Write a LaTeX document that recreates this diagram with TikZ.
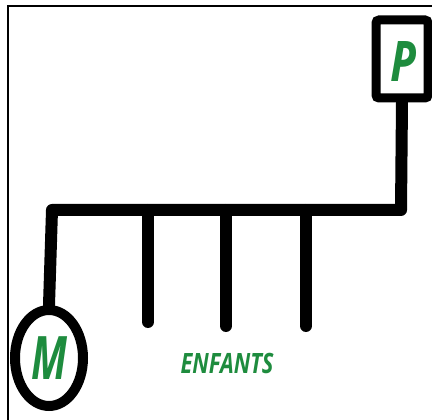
\documentclass[tikz,border=0pt]{standalone}
\usepackage{fontspec}
\setmainfont{Open Sans}
\usetikzlibrary{shapes.geometric}
\definecolor{leafgreen}{RGB}{30,140,62}
\begin{document}
\begin{tikzpicture}[x=1pt,y=-1pt,
  thick line/.style={line width=12pt,line cap=round,line join=round},
  letter/.style={text=leafgreen,inner sep=0pt}]
\useasboundingbox (0,0) rectangle (432,420);
\fill[white] (0,0) rectangle (432,420);
% frame
\draw[line width=2.5pt] (8,420) -- (8,6) -- (432,6);
% parent box
\node[draw,line width=9pt,minimum width=52pt,minimum height=78pt,inner sep=0pt,rounded corners=3pt] (pbox) at (402,59) {};
\node[letter,font=\fontsize{56}{56}\selectfont\bfseries\itshape,xscale=0.8] (p) at (403,62) {P};
% mother ellipse
\node[draw,ellipse,line width=10pt,minimum width=68pt,minimum height=96pt,inner sep=0pt] (mbox) at (49,358) {};
\node[letter,font=\fontsize{60}{60}\selectfont\bfseries\itshape,xscale=0.68] (m) at (49,358) {M};
% connectors
\coordinate (jr) at (401,210);
\coordinate (jl) at (52,210);
\coordinate (c1b) at (148,322);
\coordinate (c2b) at (226,326);
\coordinate (c3b) at (306,326);
\draw[thick line] (pbox.south) -- (jr) -- (jl) -- (mbox.north);
\draw[thick line] (c1b |- jl) -- (c1b);
\draw[thick line] (c2b |- jl) -- (c2b);
\draw[thick line] (c3b |- jl) -- (c3b);
\node[letter,font=\fontsize{28}{28}\selectfont\bfseries\itshape,xscale=0.78] (enf) at (227,363) {ENFANTS};
\end{tikzpicture}
\end{document}
